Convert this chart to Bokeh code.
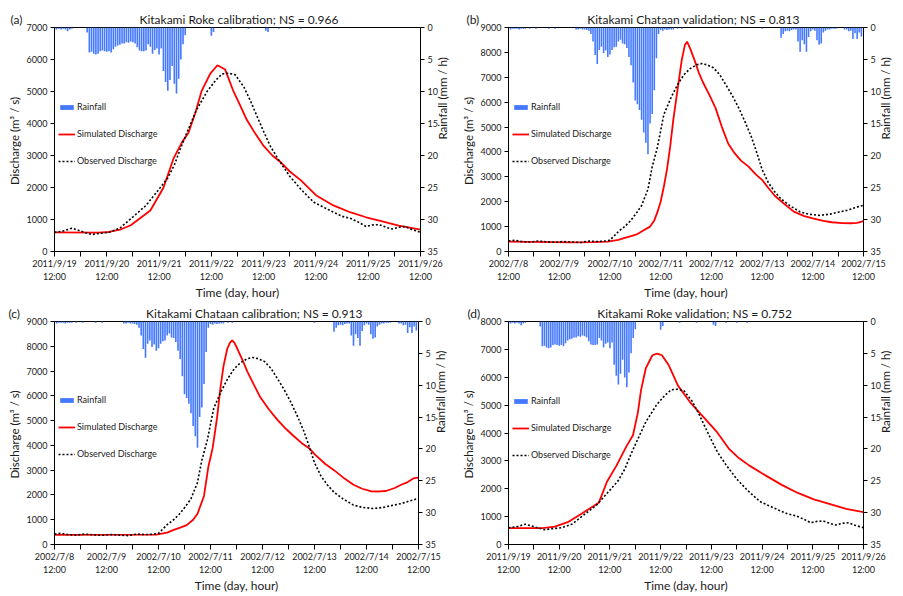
import math
from bokeh.plotting import figure
from bokeh.models import Range1d, LinearAxis, FixedTicker, Legend, LegendItem
from bokeh.layouts import column, row
from bokeh.embed import file_html
from bokeh.resources import INLINE

FONT = "Lato"

# ---------------- data ----------------
day_ticks = [0, 24, 48, 72, 96, 120, 144, 168]
half_ticks = [12, 36, 60, 84, 108, 132, 156]
roke_dates = ["2011/9/19", "2011/9/20", "2011/9/21", "2011/9/22",
              "2011/9/23", "2011/9/24", "2011/9/25", "2011/9/26"]
chataan_dates = ["2002/7/8", "2002/7/9", "2002/7/10", "2002/7/11",
                 "2002/7/12", "2002/7/13", "2002/7/14", "2002/7/15"]
tick_time = "12:00"

# Roke rainfall (hour index from 9/19 12:00, mm/h)
rain_roke_h = [0, 1, 2, 3, 4, 5, 6, 7, 8,
               15, 16, 17, 18, 19, 20, 21, 22, 23, 24, 25, 26, 27, 28, 29, 30,
               31, 32, 33, 34, 35, 36, 37, 38, 39, 40, 41, 42, 43, 44, 45, 46,
               47, 48, 49, 50, 51, 52, 53, 54, 55, 56, 57, 58, 59, 60,
               72, 73, 81, 89, 97, 98, 103, 108, 113]
rain_roke_mm = [0.4, 0.3, 0.2, 0.3, 0.2, 0.3, 0.6, 0.3, 0.2,
                0.8, 3.9, 3.8, 4.1, 4.2, 4.1, 3.7, 3.6, 3.7, 3.8, 3.7, 3.9, 3.4, 3.0, 2.8, 2.7,
                2.5, 2.5, 2.3, 2.4, 2.2, 2.3, 2.5, 3.1, 3.6, 3.7, 3.7, 3.6, 2.6, 3.0, 4.1, 3.5,
                3.3, 4.2, 3.3, 6.8, 8.5, 9.9, 8.2, 6.0, 8.8, 10.3, 8.0, 5.0, 2.6, 1.2,
                1.3, 0.7, 0.2, 0.2, 0.5, 0.7, 0.2, 0.2, 0.2]

# Chataan rainfall (hour index from 7/8 12:00, mm/h)
rain_chataan_h = [0, 1, 2, 3, 4, 5, 6, 7, 8, 10, 13, 19, 22,
                  32, 33, 34, 35, 36, 37, 38,
                  39, 40, 41, 42, 43, 44, 45, 46, 47, 48, 49, 50, 51, 52, 53, 54, 55,
                  56, 57, 58, 59, 60, 61, 62, 63, 64, 65, 66, 67, 68, 69, 70, 71,
                  72, 73, 74, 75, 76, 77, 78, 80, 82, 120,
                  129, 130, 131, 132, 133, 134, 135, 136, 137, 138, 139, 140, 141, 142,
                  143, 144, 145, 146, 147, 148, 149, 150, 151, 152, 153, 154, 155,
                  159, 160, 161, 162, 163, 164, 165, 166, 167]
rain_chataan_mm = [0.2, 0.3, 0.2, 0.2, 0.2, 0.3, 0.2, 0.2, 0.2, 0.2, 0.2, 0.2, 0.2,
                   0.3, 0.3, 0.2, 0.3, 0.3, 0.4, 0.5,
                   1.0, 2.2, 4.3, 5.7, 3.5, 3.0, 4.0, 3.6, 4.6, 4.2, 3.5, 3.1, 3.0, 2.2, 1.9, 2.5, 2.6,
                   3.2, 4.6, 5.9, 8.6, 11.4, 12.0, 12.9, 14.4, 16.4, 18.0, 19.8, 15.0, 13.5, 9.8, 4.8, 1.0,
                   0.4, 0.5, 0.3, 0.4, 0.3, 0.3, 0.3, 0.2, 0.2, 0.2,
                   1.6, 1.0, 0.6, 0.5, 0.6, 0.4, 0.3, 0.3, 2.2, 3.8, 2.0, 2.6, 3.8, 1.5,
                   0.6, 0.3, 0.5, 2.0, 2.7, 2.5, 0.8, 0.5, 0.3, 0.3, 0.2, 0.2, 0.2,
                   0.3, 0.3, 0.6, 0.5, 1.8, 0.9, 1.8, 0.8, 1.4]

# Observed discharge, Roke (m3/s)
obs_roke_h = [0, 4, 8, 12, 17, 21, 25, 30, 36, 42, 48, 52, 55, 58, 61, 65, 70, 74, 77,
              80, 83, 87, 90, 93, 96, 99, 103, 108, 113, 119, 123, 128, 132, 136, 140,
              143, 146, 149, 152, 155, 158, 161, 164, 168]
obs_roke_q = [600, 640, 730, 640, 530, 570, 600, 730, 1080, 1440, 1950, 2300, 2700, 3250,
              3750, 4400, 5000, 5350, 5550, 5570, 5520, 5130, 4700, 4220, 3750, 3300, 2850,
              2350, 1950, 1540, 1400, 1230, 1100, 1030, 900, 780, 830, 840, 760, 700, 760,
              780, 690, 600]

# Observed discharge, Chataan (m3/s)
obs_chataan_h = [0, 3, 6, 10, 14, 18, 22, 26, 30, 34, 38, 42, 46, 48, 52, 55, 58, 61, 63,
                 66, 68, 70.5, 73.5, 77, 80, 83, 86, 89, 91.5, 94, 97, 100, 103, 106, 109,
                 112, 115, 117, 120, 123, 126, 129, 133, 138, 142, 147, 152, 156, 160, 164, 168]
obs_chataan_q = [420, 450, 400, 380, 420, 390, 370, 400, 380, 360, 420, 400, 420, 450, 800,
                 1000, 1260, 1600, 1850, 2500, 3400, 4200, 5500, 6200, 6700, 7100, 7350, 7500,
                 7550, 7500, 7380, 7100, 6680, 6250, 5760, 5200, 4590, 4100, 3300, 2760, 2400,
                 2110, 1850, 1590, 1500, 1450, 1500, 1580, 1650, 1760, 1860]

# Simulated discharge (a) Roke calibration
sim_a_h = [0, 20, 25, 30, 35, 44, 50, 54.6, 58.5, 61.5, 64.6, 67.6, 71.5, 74.8, 78.3, 82,
           85, 88, 92, 96, 100, 104, 108, 113, 120, 128, 136, 143, 150, 158, 168]
sim_a_q = [600, 590, 610, 680, 820, 1280, 1990, 2900, 3410, 3710, 4320, 5030, 5560, 5820,
           5690, 5030, 4600, 4150, 3700, 3300, 3000, 2780, 2500, 2230, 1760, 1440, 1220,
           1070, 950, 810, 680]

# Simulated discharge (b) Chataan validation
sim_b_h = [0, 10, 20, 30, 40, 47, 52, 55, 58, 61, 64, 67, 69, 70.5, 72, 73.5, 75, 76.5,
           78, 80, 82, 83.5, 84.5, 86, 88, 90, 92, 95, 98, 101, 104, 107, 110, 113.5, 117,
           120, 123, 126, 130, 135, 140, 144, 149, 153, 158, 162, 165, 168]
sim_b_q = [400, 390, 380, 370, 380, 400, 470, 550, 620, 700, 850, 1000, 1250, 1590, 2000,
           2600, 3300, 4200, 5300, 6500, 7700, 8300, 8430, 8150, 7700, 7200, 6800, 6300,
           5760, 5000, 4330, 3950, 3650, 3420, 3100, 2880, 2550, 2240, 1950, 1600, 1420,
           1330, 1230, 1175, 1140, 1135, 1150, 1220]

# Simulated discharge (c) Chataan calibration
sim_c_h = [0, 47, 52, 55, 58, 61, 64, 66, 69, 71, 73, 75, 76.6, 78, 79.7, 81, 82, 83,
           84.4, 87, 89, 92, 95, 99, 103, 107, 110.5, 114, 118, 120, 125, 129, 134, 138,
           142, 146, 150, 153, 157, 160, 163, 166, 168]
sim_c_q = [390, 400, 480, 590, 680, 780, 1000, 1240, 1960, 3130, 3900, 5100, 6330, 7200,
           7890, 8150, 8240, 8150, 7900, 7400, 6980, 6450, 5940, 5450, 5020, 4650, 4370,
           4100, 3850, 3650, 3250, 3000, 2650, 2410, 2250, 2150, 2140, 2160, 2280, 2410,
           2520, 2680, 2700]

# Simulated discharge (d) Roke validation
sim_d_h = [0, 16, 22, 28, 34, 40.5, 42.8, 46.6, 51.1, 55.8, 58.9, 61.2, 62.7, 65, 68.1,
           70.4, 72.6, 75.7, 80.2, 86.3, 92.5, 98.7, 104.5, 109, 114, 121.6, 129.3, 136.9,
           144.5, 152.2, 159.8, 168]
sim_d_q = [590, 590, 640, 800, 1080, 1390, 1510, 2250, 2830, 3520, 3920, 4720, 5530, 6330,
           6790, 6850, 6790, 6450, 5700, 5070, 4550, 4030, 3420, 3100, 2830, 2480, 2140,
           1850, 1620, 1450, 1275, 1160]

BAR_COLOR = "#4479ff"
TXT = "#1a1a1a"
EM = "\u2003"


def style_axis(ax, label, label_size, label_standoff, lab_standoff, tick_out):
    ax.axis_label = label
    ax.axis_label_text_font = FONT
    ax.axis_label_text_font_size = label_size
    ax.axis_label_text_font_style = "normal"
    ax.axis_label_text_color = TXT
    ax.axis_label_standoff = label_standoff
    ax.major_label_text_font = FONT
    ax.major_label_text_font_size = "9px"
    ax.major_label_text_color = TXT
    ax.major_label_standoff = lab_standoff
    ax.major_tick_in = 0
    ax.major_tick_out = tick_out
    ax.minor_tick_in = 0
    ax.minor_tick_out = tick_out
    ax.axis_line_color = "black"
    ax.major_tick_line_color = "black"
    ax.minor_tick_line_color = "black"


def make_panel(tag, title, n_space, dates, qmax, rain_h, rain_mm, obs_h, obs_q, sim_h, sim_q,
               width, height, b_left, b_right, b_top, b_bottom, legend_y, tag_x):
    p = figure(width=width, height=height, output_backend="svg", toolbar_location=None,
               x_range=Range1d(0, 168), y_range=Range1d(0, qmax),
               min_border_left=b_left, min_border_right=b_right,
               min_border_top=b_top, min_border_bottom=b_bottom)
    p.extra_y_ranges = {"rain": Range1d(35, 0)}
    p.grid.visible = False
    p.outline_line_color = "black"
    p.outline_line_width = 1

    # panel tag + title share the top line
    p.title.text = tag + EM * n_space + title
    p.title.align = "left"
    p.title.offset = tag_x - b_left
    p.title.text_font = FONT
    p.title.text_font_size = "12px"
    p.title.text_font_style = "normal"
    p.title.text_color = TXT
    p.title.standoff = 2

    xa = p.xaxis[0]
    xa.ticker = FixedTicker(ticks=day_ticks, minor_ticks=half_ticks)
    xa.major_label_overrides = {t: d + "\n" + tick_time for t, d in zip(day_ticks, dates)}
    style_axis(xa, "Time (day, hour)", "12px", 0, 1, 5)

    ya = p.yaxis[0]
    ya.ticker = FixedTicker(ticks=list(range(0, qmax + 1, 1000)), minor_ticks=[])
    style_axis(ya, "Discharge  (m\u00b3 / s)", "11.5px", 3, 3, 4)

    ra = LinearAxis(y_range_name="rain",
                    ticker=FixedTicker(ticks=[0, 5, 10, 15, 20, 25, 30, 35], minor_ticks=[]))
    style_axis(ra, "Rainfall  (mm / h)", "11.5px", 2, 3, 4)
    if "axis_label_orientation" in ra.properties():
        ra.axis_label_orientation = math.pi / 2
    p.add_layout(ra, "right")

    bars = p.vbar(x=rain_h, top=rain_mm, bottom=0, width=0.75, y_range_name="rain",
                  fill_color=BAR_COLOR, line_color=None)
    sim = p.line(sim_h, sim_q, line_color="#ff0000", line_width=1.8)
    obs = p.line(obs_h, obs_q, line_color="black", line_width=1.6, line_dash="2 2")

    legend = Legend(items=[LegendItem(label="Rainfall", renderers=[bars]),
                           LegendItem(label="Simulated Discharge", renderers=[sim]),
                           LegendItem(label="Observed Discharge", renderers=[obs])],
                    location=(4, legend_y), orientation="vertical",
                    padding=0, margin=0, spacing=16, glyph_width=17, glyph_height=6,
                    label_height=10, label_standoff=2,
                    label_text_font=FONT, label_text_font_size="9px", label_text_color=TXT,
                    border_line_alpha=0, background_fill_alpha=0)
    p.add_layout(legend)
    return p


pa = make_panel("(a)", "Kitakami Roke calibration; NS = 0.966", 13, roke_dates, 7000,
                rain_roke_h, rain_roke_mm, obs_roke_h, obs_roke_q, sim_a_h, sim_a_q,
                458, 302, 54, 38, 27, 48, 85, 10)
pb = make_panel("(b)", "Kitakami Chataan validation; NS = 0.813", 12, chataan_dates, 9000,
                rain_chataan_h, rain_chataan_mm, obs_chataan_h, obs_chataan_q, sim_b_h, sim_b_q,
                443, 302, 45, 35, 27, 48, 85, 3)
pc = make_panel("(c)", "Kitakami Chataan calibration; NS = 0.913", 14, chataan_dates, 9000,
                rain_chataan_h, rain_chataan_mm, obs_chataan_h, obs_chataan_q, sim_c_h, sim_c_q,
                458, 293, 54, 40, 18, 48, 85, 8)
pd = make_panel("(d)", "Kitakami Roke validation; NS = 0.752", 13, roke_dates, 8000,
                rain_roke_h, rain_roke_mm, obs_roke_h, obs_roke_q, sim_d_h, sim_d_q,
                443, 293, 44, 35, 18, 48, 84, 3)

layout = column(row(pa, pb, spacing=0), row(pc, pd, spacing=0), spacing=0)

open("out.html", "w").write(file_html(layout, INLINE))
